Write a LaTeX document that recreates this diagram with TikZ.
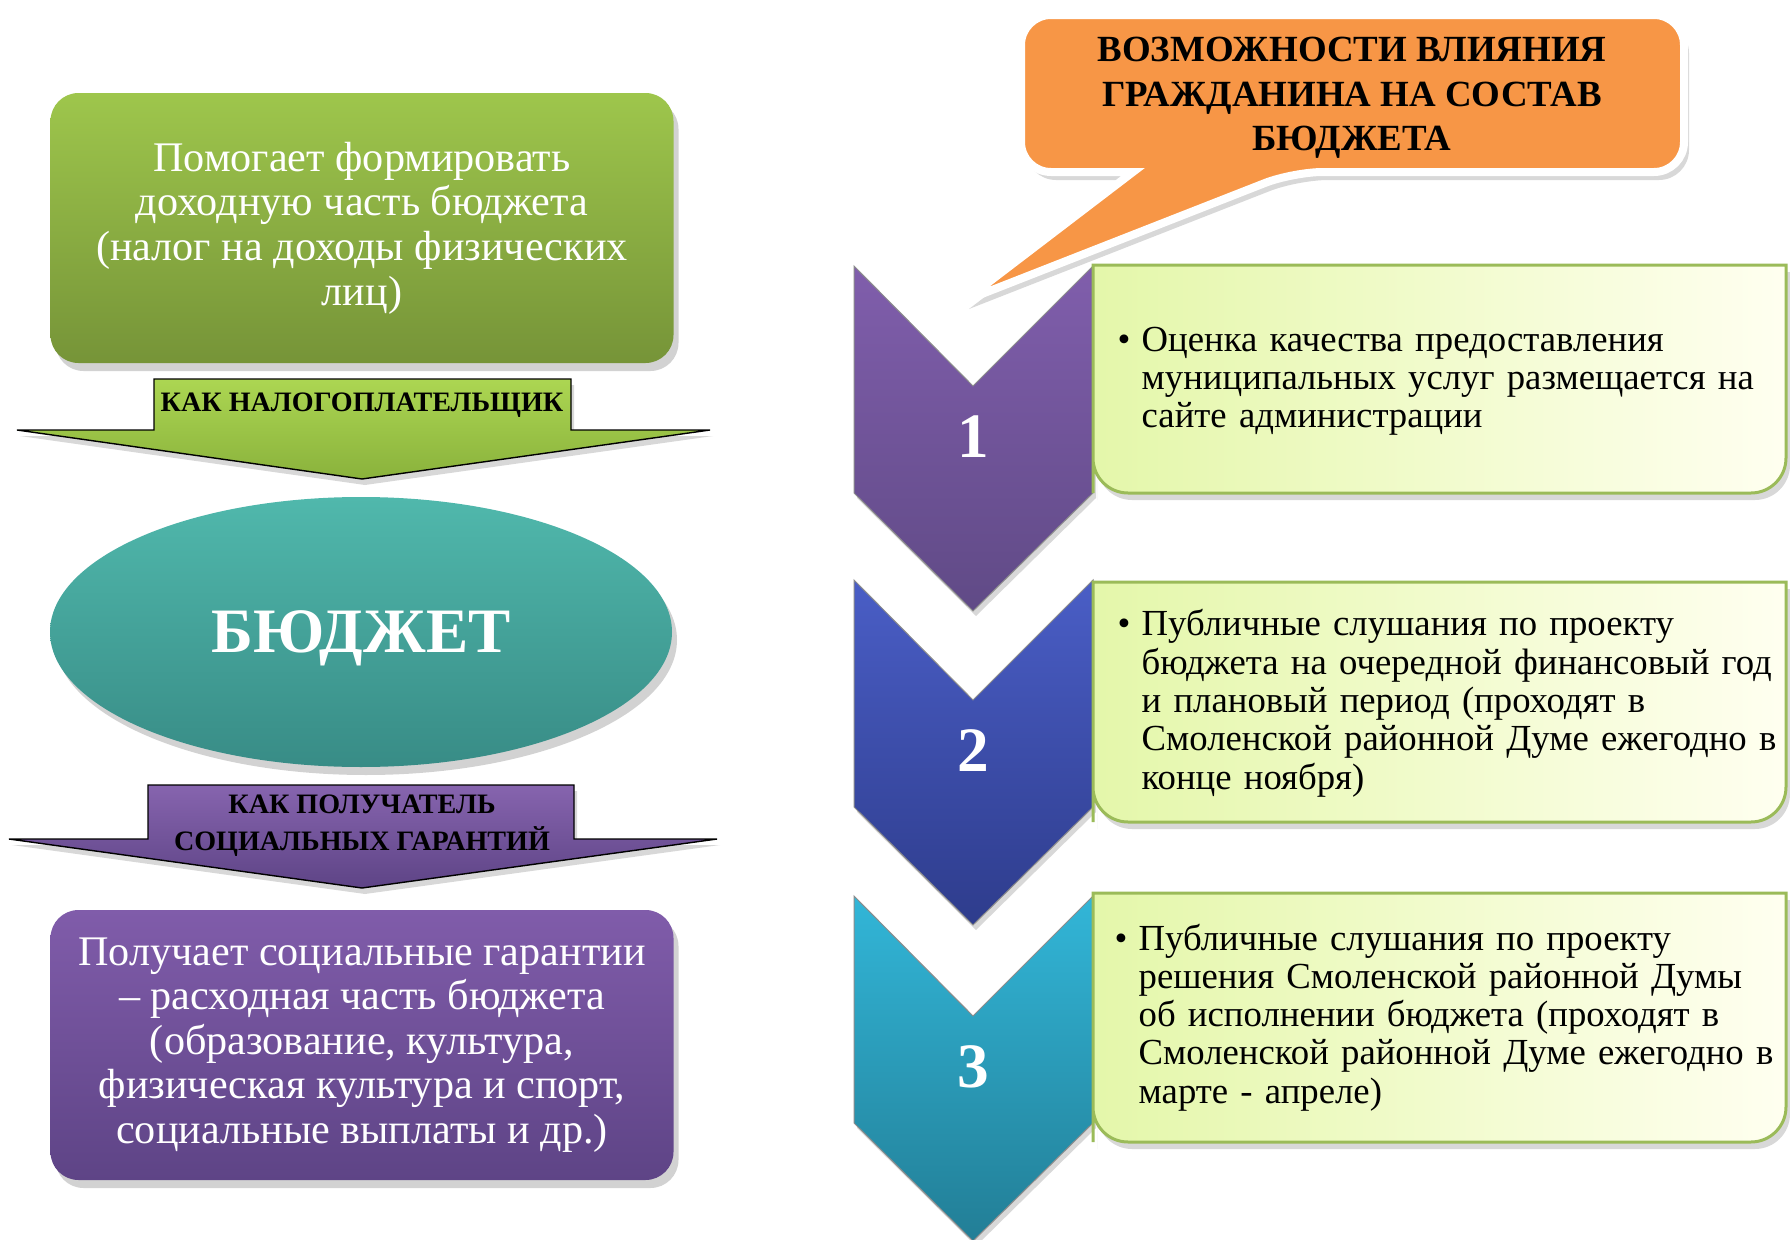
\documentclass[tikz,border=0pt]{standalone}
\usepackage{fontspec}
\setmainfont{Liberation Serif}
\usepackage{tikz}
\usetikzlibrary{shadows}
\usetikzlibrary{shapes.geometric}

\definecolor{grtop}{RGB}{158,198,76}
\definecolor{grbot}{RGB}{118,148,56}
\definecolor{artop}{RGB}{172,214,82}
\definecolor{arbot}{RGB}{138,178,60}
\definecolor{tltop}{RGB}{80,184,172}
\definecolor{tlbot}{RGB}{56,140,134}
\definecolor{pptop}{RGB}{128,92,170}
\definecolor{ppbot}{RGB}{94,68,134}
\definecolor{orng}{RGB}{247,150,70}
\definecolor{chatop}{RGB}{128,94,172}
\definecolor{chabot}{RGB}{96,74,134}
\definecolor{chbtop}{RGB}{74,94,198}
\definecolor{chbbot}{RGB}{46,60,140}
\definecolor{chctop}{RGB}{50,182,216}
\definecolor{chcbot}{RGB}{34,126,150}
\definecolor{lgleft}{RGB}{228,247,170}
\definecolor{lgright}{RGB}{255,255,240}
\definecolor{lgline}{RGB}{155,187,89}

\newcommand{\pointmark}{\leftskip=2.4mm\noindent\llap{\makebox[2.4mm][l]{\textbullet}}}

\begin{document}
\begin{tikzpicture}[x=0.1mm, y=-0.1mm,
    bigbox/.style={rounded corners=2.8mm, minimum width=62.3mm, minimum height=27mm, inner sep=0pt, text=white, align=center, font=\fontsize{12}{12.7}\selectfont, drop shadow={shadow xshift=0.5mm, shadow yshift=-0.8mm, opacity=0.35}},
    flowarrow/.style={drop shadow={shadow xshift=0.3mm, shadow yshift=-0.6mm, opacity=0.3}},
    arrowtext/.style={font=\bfseries\fontsize{8}{10.5}\selectfont, align=center},
    chev/.style={draw=black!45, line width=0.1mm, drop shadow={shadow xshift=0.3mm, shadow yshift=-0.5mm, opacity=0.3}},
    numtext/.style={text=white, font=\bfseries\fontsize{18}{18}\selectfont},
    stepbox/.style={draw=lgline, line width=0.3mm, left color=lgleft, right color=lgright, drop shadow={shadow xshift=0.4mm, shadow yshift=-0.7mm, opacity=0.3}},
    steptext/.style={anchor=north west, inner sep=0pt, align=left, text width=70mm, font=\fontsize{10.45}{10.9}\selectfont}]
  \useasboundingbox (0,0) rectangle (1790,1240);
  \fill[white] (0,0) rectangle (1790,1240);

  \node[bigbox, top color=grtop, bottom color=grbot] (income) at (362,228) {Помогает формировать\\доходную часть бюджета\\(налог на доходы физических\\лиц)};
  \draw[flowarrow, top color=artop, bottom color=arbot] (154,379) -- (571,379) -- (571,430) -- (710,430) -- (362,479) -- (17,430) -- (154,430) -- cycle;
  \node[arrowtext] (taxpayer) at (362,405) {КАК НАЛОГОПЛАТЕЛЬЩИК};
  \node[ellipse, minimum width=62.2mm, minimum height=27mm, inner sep=0pt, text depth=0pt, top color=tltop, bottom color=tlbot, text=white, font=\bfseries\fontsize{18}{18}\selectfont, drop shadow={shadow xshift=0.5mm, shadow yshift=-0.8mm, opacity=0.35}] (budget) at (361,632) {БЮДЖЕТ};
  \draw[flowarrow, top color=pptop!95!white, bottom color=ppbot] (148,785) -- (574,785) -- (574,839) -- (717,839) -- (362,888) -- (9,839) -- (148,839) -- cycle;
  \node[arrowtext] (recipient) at (362,826) {КАК ПОЛУЧАТЕЛЬ\\СОЦИАЛЬНЫХ ГАРАНТИЙ};
  \node[bigbox, top color=pptop, bottom color=ppbot] (expenses) at (362,1045) {Получает социальные гарантии\\– расходная часть бюджета\\(образование, культура,\\физическая культура и спорт,\\социальные выплаты и др.)};

  \draw[fill=orng, draw=white, line width=0.8mm, drop shadow={shadow xshift=0.5mm, shadow yshift=-0.8mm, opacity=0.3}] (1133,172) [rounded corners=3mm] -- (1021,172) -- (1021,15) -- (1684,15) -- (1684,172) -- (1293,172) [sharp corners] -- (964,301) -- cycle;
  \node[font=\bfseries\fontsize{10.5}{12.7}\selectfont, align=center] (title) at (1352,98) {ВОЗМОЖНОСТИ ВЛИЯНИЯ\\ГРАЖДАНИНА НА СОСТАВ\\БЮДЖЕТА};

  \foreach \t/\n/\ct/\cb in {266/1/chatop/chabot, 580/2/chbtop/chbbot, 896/3/chctop/chcbot}
  {
    \draw[chev, top color=\ct, bottom color=\cb] (854,\t) -- (973,\t+120) -- (1093,\t) -- (1093,\t+227) -- (973,\t+345) -- (854,\t+227) -- cycle;
    \node[numtext] (num\n) at (973,\t+171) {\n};
  }
  \foreach \a/\b in {265/493, 582/822, 893/1142}
    \draw[stepbox] (1093,\b) -- (1093,\a) -- (1786,\a) [rounded corners=3.5mm] -- (1786,\b) -- (1093,\b) [sharp corners] -- cycle;

  \node[steptext] (step1) at (1117,326) {\pointmark Оценка качества предоставления\\муниципальных услуг размещается на\\сайте администрации\par};
  \node[steptext] (step2) at (1117,609) {\pointmark Публичные слушания по проекту\\бюджета на очередной финансовый год\\и плановый период (проходят в\\Смоленской районной Думе ежегодно в\\конце ноября)\par};
  \node[steptext] (step3) at (1114,923) {\pointmark Публичные слушания по проекту\\решения Смоленской районной Думы\\об исполнении бюджета (проходят в\\Смоленской районной Думе ежегодно в\\марте - апреле)\par};
\end{tikzpicture}
\end{document}
